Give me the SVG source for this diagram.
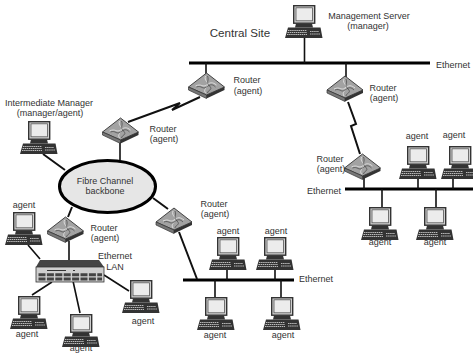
<svg xmlns="http://www.w3.org/2000/svg" xmlns:xlink="http://www.w3.org/1999/xlink" width="473" height="353" viewBox="0 0 473 353">
<style>
text{font-family:"Liberation Sans",Arial,sans-serif;font-size:9px;fill:#333;text-anchor:middle}
.s{text-anchor:start}
.bus{stroke:#000;stroke-width:3.2;fill:none}
.w{stroke:#111;stroke-width:1.6;fill:none}
.t{stroke:#111;stroke-width:2;fill:none}
</style>
<defs>
<g id="pc">
<rect x="0.7" y="0.7" width="21" height="17.5" fill="#cfcfcf" stroke="#333" stroke-width="1.400"/>
<rect x="3" y="2.800" width="16.500" height="13" fill="#ececec" stroke="#555" stroke-width="0.8"/>
<path d="M3 18.500h16l1 4H2z" fill="#333"/>
<path d="M-5 22.500H27.500L29.500 33H-8z" fill="#333"/>
<path d="M-5 25.500H14M-5.500 27.500H14M-6 29.500H14M17 26.500H26M17 29H27" stroke="#ccc" stroke-width="0.9" stroke-dasharray="1.500 .6" fill="none"/>
</g>
<g id="router">
<path d="M-18 14L0 0L18 14L0 22z" fill="#a2a2a2" stroke="#333" stroke-width="0.9"/>
<path d="M-18 14L0 22V25.500L-18 17z" fill="#777" stroke="#333" stroke-width="0.7"/>
<path d="M18 14L0 22V25.500L18 17z" fill="#333"/>
<path d="M-1 3C-3 8 3 9 1 12.500S-3 17 -1 20M-11 13C-5 10 -4 15 0 12S6 9 10 12" stroke="#ddd" stroke-width="1" fill="none"/>
<path d="M1 3C3 8 -1 9 3 13S1 17 1 20M-10 14C-5 12 -4 17 0 14S6 11 9 14" stroke="#444" stroke-width="0.7" fill="none"/>
</g>
</defs>
<rect width="473" height="353" fill="#fff"/>
<g id="connectors">
<path class="bus" d="M189 63H430M345 189H473M183 280H294"/>
<path class="w" d="M304.500 37V63M346 63V77M206 63V74M120 142V160M364 178V189M418 178V189M453 178V189M382 189V207M436 189V207M227 269V280M275 269V280M215 280V297M281 280V297M69 241V260"/>
<path class="t" d="M348 102L356 124L351 126L360 154M128 122L180 103L172 110L200 97M43 154L65 170M153 198L168 209M179 232L197 279M72 207L68 217"/>
<path class="w" d="M28 245L40 259M52 282L32 295M73 281L80 313M104 275L129 291"/>
</g>
<g id="backbone">
<ellipse cx="107.500" cy="186.500" rx="48" ry="26" fill="#e6e6e6" stroke="#000" stroke-width="3"/>
<text x="105" y="183.500">Fibre Channel</text>
<text x="105" y="193.500">backbone</text>
</g>
<g id="title"><text x="240" y="37" style="font-size:11.600px">Central Site</text></g>
<g id="management-server"><use href="#pc" x="293" y="5"/><text x="369" y="19">Management Server</text><text x="368" y="29">(manager)</text></g>
<g id="ethernet-top"><text class="s" x="436" y="68">Ethernet</text></g>
<g id="router-top-right"><use href="#router" x="345" y="76"/><text x="383" y="91">Router</text><text x="384" y="100.500">(agent)</text></g>
<g id="router-top-left"><use href="#router" x="206.500" y="73"/><text x="247" y="83">Router</text><text x="248" y="93.500">(agent)</text></g>
<g id="router-backbone"><use href="#router" x="120.500" y="118"/><text x="163" y="131.500">Router</text><text x="164" y="142">(agent)</text></g>
<g id="router-right"><use href="#router" x="362.500" y="154"/><text x="330" y="162">Router</text><text x="331" y="172">(agent)</text></g>
<g id="router-lower"><use href="#router" x="174" y="208"/><text x="214" y="207">Router</text><text x="215" y="217">(agent)</text></g>
<g id="router-left"><use href="#router" x="65.500" y="217"/><text x="104" y="231">Router</text><text x="105" y="241">(agent)</text></g>
<g id="intermediate-manager"><use href="#pc" x="28" y="121"/><text x="49" y="106">Intermediate Manager</text><text x="50" y="116">(manager/agent)</text></g>
<g id="ethernet-right"><text class="s" x="307" y="194">Ethernet</text></g>
<g id="ethernet-lower"><text class="s" x="299" y="282">Ethernet</text></g>
<g id="agent-r1"><use href="#pc" x="407" y="146"/><text x="417" y="139">agent</text></g>
<g id="agent-r2"><use href="#pc" x="449" y="146"/><text x="454" y="138">agent</text></g>
<g id="agent-r3"><use href="#pc" x="369" y="207"/><text x="380" y="245">agent</text></g>
<g id="agent-r4"><use href="#pc" x="424" y="207"/><text x="435" y="245">agent</text></g>
<g id="agent-m1"><use href="#pc" x="217" y="237"/><text x="228" y="234">agent</text></g>
<g id="agent-m2"><use href="#pc" x="264" y="237"/><text x="276" y="234">agent</text></g>
<g id="agent-m3"><use href="#pc" x="205" y="297"/><text x="215" y="338">agent</text></g>
<g id="agent-m4"><use href="#pc" x="271" y="297"/><text x="283" y="338">agent</text></g>
<g id="agent-l1"><use href="#pc" x="13" y="212"/><text x="24" y="208">agent</text></g>
<g id="agent-l2"><use href="#pc" x="18" y="296"/><text x="27" y="337">agent</text></g>
<g id="agent-l3"><use href="#pc" x="70" y="314"/><text x="81" y="351">agent</text></g>
<g id="agent-l4"><use href="#pc" x="130" y="280"/><text x="143" y="324">agent</text></g>
<g id="lan-hub">
<path d="M40 260H99L104 267H36z" fill="#444"/>
<rect x="36" y="267" width="68" height="15" fill="#cfcfcf" stroke="#333" stroke-width="0.8"/>
<path d="M38.500 274.800H102M38.500 279H102" stroke="#444" stroke-width="3" stroke-dasharray="7 1.400"/>
<path d="M47 270.500H66M73 270.500H75" stroke="#333" stroke-width="1.200"/>
<text x="115" y="259">Ethernet</text><text x="115" y="270">LAN</text>
</g>
</svg>
